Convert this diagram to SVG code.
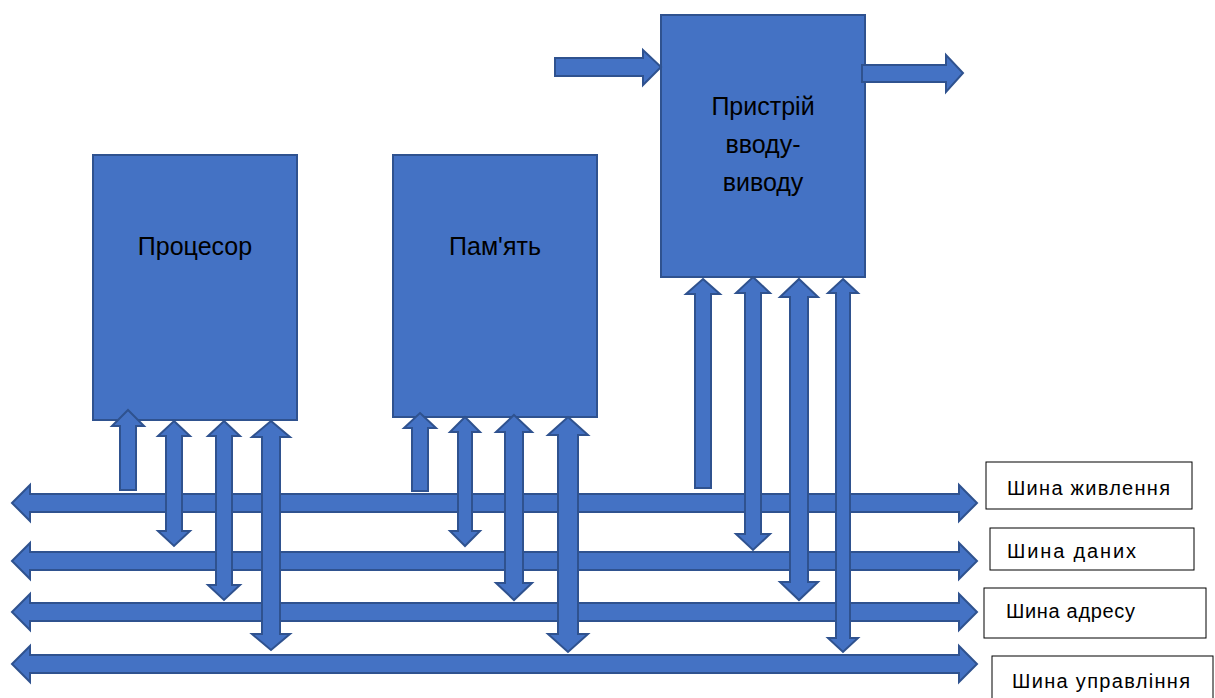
<svg xmlns="http://www.w3.org/2000/svg" width="1215" height="698" viewBox="0 0 1215 698">
<style>
.blk{fill:#4472C4;stroke:#2F528F;stroke-width:2;stroke-linejoin:miter}
.lbl{fill:#fff;stroke:#000;stroke-width:1}
.t{font-family:"Liberation Sans",Arial,sans-serif;fill:#000}
.big{font-size:25px;text-anchor:middle}
.sm{font-size:20px}
</style>
<rect width="1215" height="698" fill="#fff"/>
<g id="cpu"><rect class="blk" x="93" y="155" width="204" height="265"/><text class="t big" x="195" y="255">Процесор</text></g>
<g id="memory"><rect class="blk" x="393" y="155" width="204" height="262"/><text class="t big" x="495" y="255">Пам'ять</text></g>
<g id="io"><rect class="blk" x="661" y="15" width="204" height="262"/>
<text class="t big" x="763" y="115">Пристрій</text>
<text class="t big" x="763" y="153">вводу-</text>
<text class="t big" x="763" y="191">виводу</text></g>
<g id="connectors">
<polygon class="blk" points="555,58 643,58 643,50 661,67 643,85 643,76 555,76"/>
<polygon class="blk" points="862,65 946,65 946,55 963,73 946,92 946,82 862,82"/>
<g id="buses">
<polygon class="blk" points="12,503 30,485 30,494 959,494 959,485 977,503 959,521 959,512 30,512 30,521"/>
<polygon class="blk" points="12,561 30,543 30,552 959,552 959,543 977,561 959,579 959,570 30,570 30,579"/>
<polygon class="blk" points="12,612 30,594 30,603 959,603 959,594 977,612 959,630 959,621 30,621 30,630"/>
<polygon class="blk" points="12,664 30,646 30,655 959,655 959,646 977,664 959,682 959,673 30,673 30,682"/>
</g>
<g id="cpu-links">
<polygon class="blk" points="128,410 144,426 136,426 136,490 120,490 120,426 112,426"/>
<polygon class="blk" points="174,421 190,436 182,436 182,531 190,531 174,546 158,531 166,531 166,436 158,436"/>
<polygon class="blk" points="224,421 240,436 232,436 232,585 240,585 224,600 208,585 216,585 216,436 208,436"/>
<polygon class="blk" points="271,421 290,437 280,437 280,634 290,634 271,650 252,634 262,634 262,437 252,437"/>
</g>
<g id="mem-links">
<polygon class="blk" points="420,413 436,428 428,428 428,491 412,491 412,428 404,428"/>
<polygon class="blk" points="465,417 480,432 472,432 472,531 480,531 465,546 450,531 458,531 458,432 450,432"/>
<polygon class="blk" points="514,415 532,432 523,432 523,583 532,583 514,600 496,583 505,583 505,432 496,432"/>
<polygon class="blk" points="568,417 588,435 578,435 578,634 588,634 568,652 548,634 558,634 558,435 548,435"/>
</g>
<g id="io-links">
<polygon class="blk" points="703,279 720,294 711,294 711,488 695,488 695,294 686,294"/>
<polygon class="blk" points="753,277 770,293 761,293 761,534 770,534 753,550 736,534 745,534 745,293 736,293"/>
<polygon class="blk" points="799,279 818,297 808,297 808,582 818,582 799,600 780,582 790,582 790,297 780,297"/>
<polygon class="blk" points="843,279 858,293 850,293 850,638 858,638 843,652 828,638 836,638 836,293 828,293"/>
</g>
</g>
<g id="label-power"><rect class="lbl" x="986" y="462" width="206" height="47"/><text class="t sm" x="1007" y="495" textLength="163">Шина живлення</text></g>
<g id="label-data"><rect class="lbl" x="990" y="528" width="204" height="42"/><text class="t sm" x="1007" y="558" textLength="129">Шина даних</text></g>
<g id="label-address"><rect class="lbl" x="984" y="588" width="222" height="50"/><text class="t sm" x="1006" y="618" textLength="129">Шина адресу</text></g>
<g id="label-control"><rect class="lbl" x="992" y="656" width="221" height="45"/><text class="t sm" x="1012" y="688" textLength="178">Шина управління</text></g>
</svg>
